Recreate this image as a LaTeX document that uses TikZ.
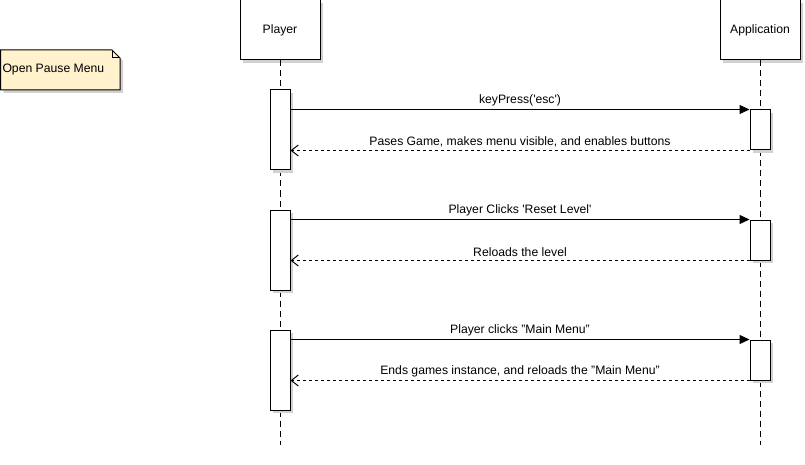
\documentclass[tikz,border=0pt]{standalone}
\usepackage{fontspec}
\setmainfont{Liberation Sans}
\usetikzlibrary{arrows.meta,positioning,shadows}
\definecolor{notefill}{RGB}{255,242,204}

\begin{document}
\begin{tikzpicture}[x=1pt,y=-1pt,line width=1pt,font=\fontsize{12.2}{14}\selectfont,
  shadowed/.style={drop shadow={shadow xshift=3pt,shadow yshift=-3pt,fill=black!18,opacity=1}},
  head/.style={draw,fill=white,minimum width=80pt,minimum height=60pt,shadowed},
  act/.style={draw,fill=white,minimum width=20pt,minimum height=#1,shadowed},
  life/.style={dash pattern=on 6pt off 4pt},
  call/.style={-{Triangle[length=10pt,width=9pt]}},
  reply/.style={dash pattern=on 3pt off 3pt,-{Straight Barb[length=7pt,width=11pt]}}]
\useasboundingbox (0,0) rectangle (805,465);
% note
\draw[fill=notefill,shadowed] (0.5,50) -- (112,50) -- (120,58) -- (120,90) -- (0.5,90) -- cycle;
\draw (112,50) -- (112,58) -- (120,58);
\node[right,inner sep=0pt] (note) at (2,70) {Open Pause Menu};
% lifelines
\node[head] (player) at (280,30) {Player};
\node[head] (app) at (760,30) {Application};
\coordinate (pend) at (280,445);
\coordinate (aend) at (760,445);
\draw[life] (player) -- (pend);
\draw[life] (app) -- (aend);
% messages: top of player bar / top of application bar
\foreach \i/\t/\s/\m/\r in {1/90/110/{keyPress(\textquotesingle esc\textquotesingle)}/{Pases Game, makes menu visible, and enables buttons},
    2/210/220/{Player Clicks \textquotesingle Reset Level\textquotesingle}/{Reloads the level},
    3/330/340/{Player clicks "Main Menu"}/{Ends games instance, and reloads the "Main Menu"}}{
  \node[act=80pt] (p\i) at (280,\t+40) {};
  \node[act=40pt] (a\i) at (760,\s+20) {};
  \draw[call] (p\i.east |- a\i.north) -- node[above=3pt,inner sep=0pt]{\m} (a\i.north west);
  \draw[reply] (a\i.south west) -- node[above=3pt,inner sep=0pt]{\r} (p\i.east |- a\i.south);
}
\end{tikzpicture}
\end{document}
